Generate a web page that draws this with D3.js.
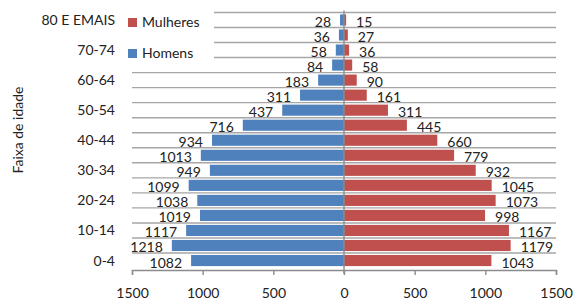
<!DOCTYPE html>
<html lang="pt">
<head>
<meta charset="UTF-8">
<title>Pirâmide etária</title>
<script src="https://d3js.org/d3.v7.min.js"></script>
<style>
  body { margin: 0; background: #fff; }
  text { font-family: Lato, "Open Sans", sans-serif; fill: #222; }
</style>
</head>
<body>
<div id="chart"></div>
<script>
// age groups, bottom to top
var faixas = ["0-4", "5-9", "10-14", "15-19", "20-24", "25-29", "30-34", "35-39",
              "40-44", "45-49", "50-54", "55-59", "60-64", "65-69", "70-74", "75-79", "80 E EMAIS"];
var homens   = [1082, 1218, 1117, 1019, 1038, 1099, 949, 1013, 934, 716, 437, 311, 183, 84, 58, 36, 28];
var mulheres = [1043, 1179, 1167, 998, 1073, 1045, 932, 779, 660, 445, 311, 161, 90, 58, 36, 27, 15];
var eixoX = [-1500, -1000, -500, 0, 500, 1000, 1500];
var rotulosY = ["0-4", "10-14", "20-24", "30-34", "40-44", "50-54", "60-64", "70-74", "80 E EMAIS"];

var width = 577, height = 304;
var azul = "#4F81BD", vermelho = "#C0504D";

var svg = d3.select("#chart").append("svg")
    .attr("width", width)
    .attr("height", height);

var plotTop = 10.5, plotBottom = 270;
var x = d3.scaleLinear().domain([-1500, 1500]).range([132, 556]);
var y = d3.scaleBand().domain(faixas.slice().reverse()).range([plotTop, plotBottom]).padding(0.26);

// gridlines at category boundaries
var lines = faixas.map(function(f) { return y(f) - y.step() * y.paddingInner() / 2; });
svg.append("g").selectAll("line")
  .data(lines)
  .enter().append("line")
    .attr("x1", 132).attr("x2", 556)
    .attr("y1", function(d) { return d; }).attr("y2", function(d) { return d; })
    .attr("stroke", "#a6a6a6").attr("stroke-width", 1.4);

var rows = faixas.map(function(f, i) { return {f: f, h: homens[i], m: mulheres[i]}; });
var bh = y.bandwidth();
function cy(f) { return y(f) + bh / 2; }

// bars
svg.append("g").selectAll("rect")
  .data(rows)
  .enter().append("rect")
    .attr("x", function(d) { return x(-d.h); })
    .attr("width", function(d) { return x(0) - x(-d.h); })
    .attr("y", function(d) { return y(d.f); })
    .attr("height", bh)
    .attr("fill", azul);

svg.append("g").selectAll("rect")
  .data(rows)
  .enter().append("rect")
    .attr("x", x(0))
    .attr("width", function(d) { return x(d.m) - x(0); })
    .attr("y", function(d) { return y(d.f); })
    .attr("height", bh)
    .attr("fill", vermelho);

// center line
svg.append("line")
  .attr("x1", x(0)).attr("x2", x(0))
  .attr("y1", plotTop).attr("y2", plotBottom + 4)
  .attr("stroke", "#8c8c8c").attr("stroke-width", 1.4);

// value labels
svg.append("g").selectAll("text")
  .data(rows)
  .enter().append("text")
    .attr("x", function(d) { return x(-d.h) - 9; })
    .attr("y", function(d) { return cy(d.f) + 7; })
    .attr("text-anchor", "end")
    .style("font-size", "14px")
    .text(function(d) { return d.h; });

svg.append("g").selectAll("text")
  .data(rows)
  .enter().append("text")
    .attr("x", function(d) { return x(d.m) + 10; })
    .attr("y", function(d) { return cy(d.f) + 7; })
    .style("font-size", "14px")
    .text(function(d) { return d.m; });

// bottom axis
var ax = svg.append("g")
  .attr("transform", "translate(0," + plotBottom + ")")
  .call(d3.axisBottom(x).tickValues(eixoX).tickSize(5).tickPadding(13)
        .tickFormat(function(d) { return Math.abs(d); }));
ax.select(".domain").attr("stroke", "#8c8c8c").attr("stroke-width", 1.4);
ax.selectAll(".tick line").attr("stroke", "#8c8c8c").attr("stroke-width", 1.4);
ax.selectAll("text").style("font-size", "14px").attr("fill", "#222")
  .style("font-family", "Lato, 'Open Sans', sans-serif");

// y labels
svg.append("g").selectAll("text")
  .data(rotulosY)
  .enter().append("text")
    .attr("x", 115)
    .attr("y", function(d) { return cy(d) + 5; })
    .attr("text-anchor", "end")
    .style("font-size", "14px")
    .text(function(d) { return d; });

svg.append("text")
  .attr("transform", "translate(23,130) rotate(-90)")
  .attr("text-anchor", "middle")
  .style("font-size", "14px")
  .text("Faixa de idade");

// legend
var leg = svg.append("g");
leg.append("rect").attr("x", 122).attr("y", 0).attr("width", 92).attr("height", 64).attr("fill", "#fff");
var legItems = [{t: "Mulheres", c: vermelho, y: 18}, {t: "Homens", c: azul, y: 49}];
legItems.forEach(function(l) {
  leg.append("rect").attr("x", 128).attr("y", l.y).attr("width", 9).attr("height", 9).attr("fill", l.c);
  leg.append("text").attr("x", 142).attr("y", l.y + 9).style("font-size", "14px").text(l.t);
});
</script>
</body>
</html>
